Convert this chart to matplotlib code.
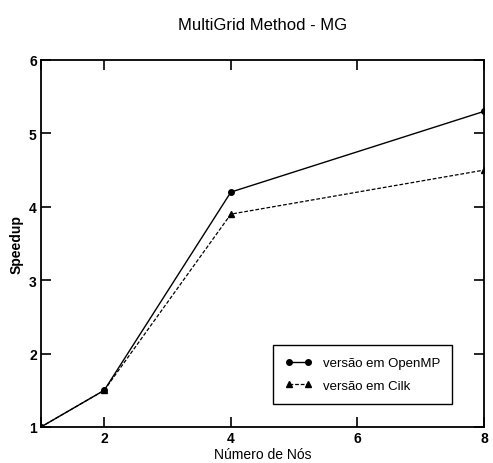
import matplotlib
matplotlib.use('Agg')
import matplotlib.pyplot as plt

# dados
nos = [1, 2, 4, 8]
openmp = [1.0, 1.5, 4.2, 5.3]
cilk = [1.0, 1.5, 3.9, 4.5]

plt.rcParams['font.family'] = ['Liberation Sans Narrow', 'Liberation Sans', 'DejaVu Sans']

fig = plt.figure(figsize=(4.93, 4.64), dpi=100)
ax = fig.add_axes([0.083, 0.0776, 0.899, 0.791])

ax.plot(nos, openmp, color='black', lw=1.0, marker='o', ms=4, label='versão em OpenMP')
ax.plot(nos, cilk, color='black', lw=0.9, ls=(0, (3, 1.5)), marker='^', ms=4.5, label='versão em Cilk')

ax.set_xlim(1, 8)
ax.set_ylim(1, 6)
ax.set_xticks([1, 2, 4, 6, 8])
ax.set_xticklabels(['', '2', '4', '6', '8'])
ax.set_yticks([1, 2, 3, 4, 5, 6])
ax.tick_params(direction='in', length=7, width=1.2, top=True, right=True,
               labelsize=10, pad=3)
for lbl in ax.get_xticklabels() + ax.get_yticklabels():
    lbl.set_fontweight('bold')
for s in ax.spines.values():
    s.set_linewidth(1.3)

ax.set_xlabel('Número de Nós', fontsize=10, labelpad=1)
ax.set_ylabel('Speedup', fontsize=10, fontweight='bold', labelpad=4)
ax.set_title('MultiGrid Method - MG', fontsize=12, pad=22)

leg = ax.legend(loc='lower right', bbox_to_anchor=(0.928, 0.063), borderaxespad=0,
                fontsize=9.5, numpoints=2,
                fancybox=False, edgecolor='black', framealpha=1,
                handlelength=2.1, handletextpad=0.8, borderpad=0.9, labelspacing=0.8)
leg.get_frame().set_linewidth(1.0)

fig.savefig('out.png', dpi=100)
